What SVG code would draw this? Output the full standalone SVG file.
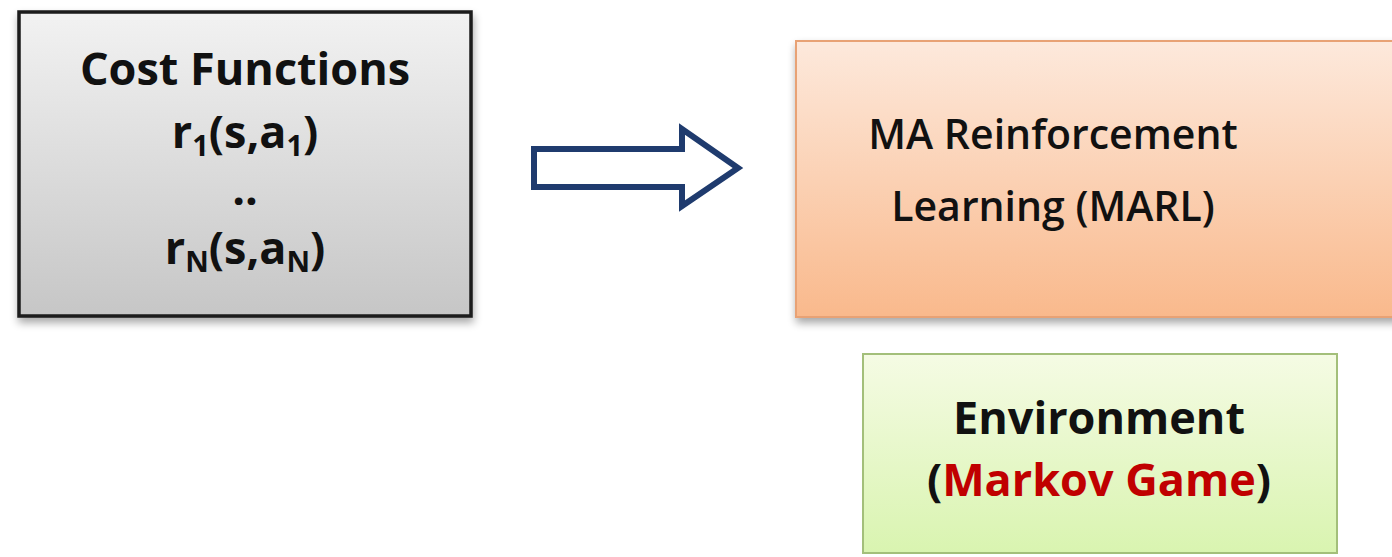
<svg xmlns="http://www.w3.org/2000/svg" width="1392" height="557" viewBox="0 0 1392 557">
  <style>
    .lbl { font-family: "Open Sans", "Liberation Sans", sans-serif; font-weight: 700; font-size: 45px; fill: #111; text-anchor: middle; }
    .mid { font-size: 41px; font-weight: 600; }
    .sub { font-size: 29px; }
    .red { fill: #c00000; }
  </style>
  <defs>
    <linearGradient id="gGray" x1="0" y1="0" x2="0" y2="1">
      <stop offset="0" stop-color="#f2f2f2"/>
      <stop offset="1" stop-color="#c6c6c6"/>
    </linearGradient>
    <linearGradient id="gOrange" x1="0" y1="0" x2="0" y2="1">
      <stop offset="0" stop-color="#fde9dc"/>
      <stop offset="1" stop-color="#f9b98c"/>
    </linearGradient>
    <linearGradient id="gGreen" x1="0" y1="0" x2="0" y2="1">
      <stop offset="0" stop-color="#f5fbe4"/>
      <stop offset="1" stop-color="#d9f4b0"/>
    </linearGradient>
    <filter id="shadow" x="-10%" y="-10%" width="120%" height="130%">
      <feGaussianBlur in="SourceAlpha" stdDeviation="4"/>
      <feOffset dx="1" dy="5"/>
      <feComponentTransfer><feFuncA type="linear" slope="0.35"/></feComponentTransfer>
      <feMerge><feMergeNode/><feMergeNode in="SourceGraphic"/></feMerge>
    </filter>
  </defs>
  <rect width="1392" height="557" fill="#ffffff"/>

  <!-- cost functions node -->
  <g id="node-cost">
    <rect x="19" y="12" width="452" height="304" fill="url(#gGray)" stroke="#1a1a1a" stroke-width="3.5" filter="url(#shadow)"/>
    <text class="lbl" x="245" y="85">Cost Functions</text>
    <text class="lbl" x="245" y="148">r<tspan class="sub" dy="8">1</tspan><tspan dy="-8">(s,a</tspan><tspan class="sub" dy="8">1</tspan><tspan dy="-8">)</tspan></text>
    <text class="lbl" x="245" y="205">..</text>
    <text class="lbl" x="245" y="264">r<tspan class="sub" dy="8">N</tspan><tspan dy="-8">(s,a</tspan><tspan class="sub" dy="8">N</tspan><tspan dy="-8">)</tspan></text>
  </g>

  <!-- MARL node -->
  <g id="node-marl">
    <rect x="796" y="41" width="610" height="276" fill="url(#gOrange)" stroke="#e8a274" stroke-width="2" filter="url(#shadow)"/>
    <text class="lbl mid" x="1053" y="149">MA Reinforcement</text>
    <text class="lbl mid" x="1053" y="221">Learning (MARL)</text>
  </g>

  <!-- environment node -->
  <g id="node-env">
    <rect x="863" y="354" width="474" height="199" fill="url(#gGreen)" stroke="#a3bf7a" stroke-width="2"/>
    <text class="lbl" x="1099" y="434">Environment</text>
    <text class="lbl" x="1099" y="496">(<tspan class="red">Markov Game</tspan>)</text>
  </g>

  <!-- connectors -->
  <g id="connectors">
    <path d="M534 149 H682 V129 L738 168 L682 206 V187 H534 Z" fill="#ffffff" stroke="#1f3b6e" stroke-width="6" stroke-linejoin="miter"/>
  </g>
</svg>
